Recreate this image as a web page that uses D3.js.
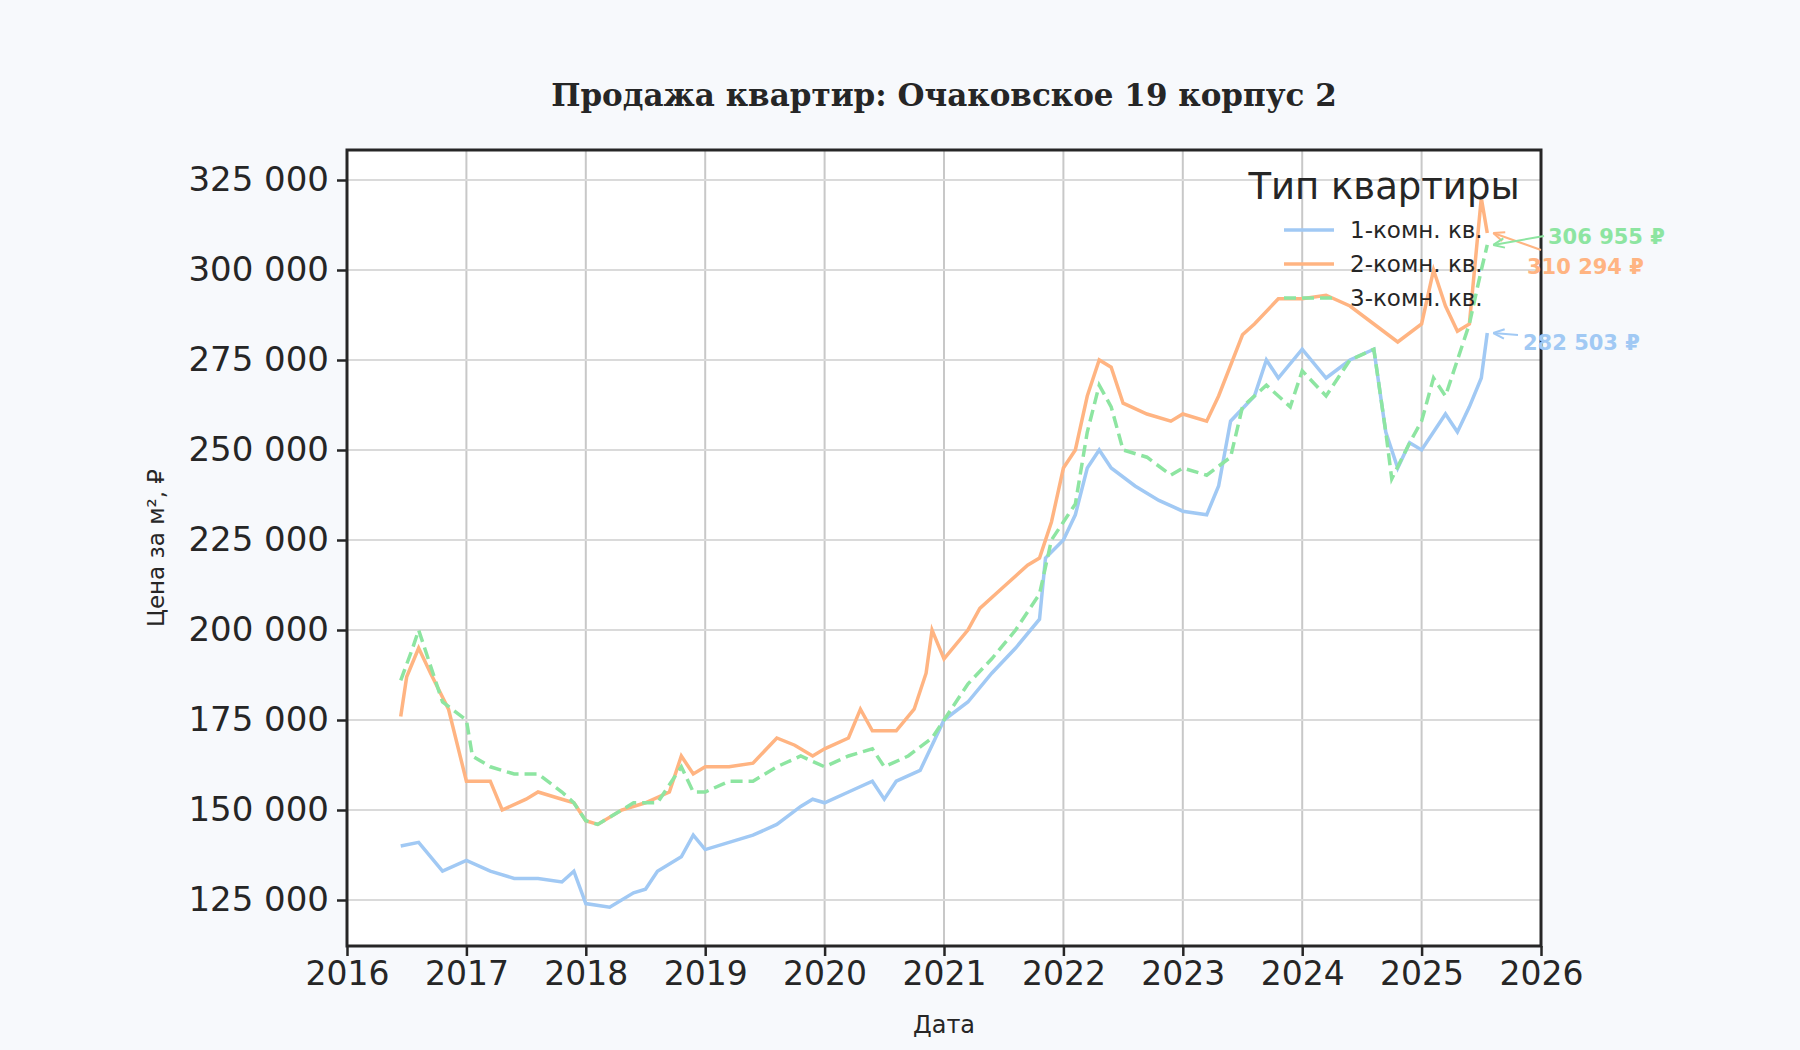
<!DOCTYPE html><html><head><meta charset="utf-8"><script src="https://cdn.jsdelivr.net/npm/d3@7"></script>
<style>body{margin:0;background:#f7f9fc}</style></head><body><svg id="c" width="1800" height="1050"></svg><script>
const years=[2016,2017,2018,2019,2020,2021,2022,2023,2024,2025,2026];
const yTicks=[125000,150000,175000,200000,225000,250000,275000,300000,325000];
const seriesNames=["1-комн. кв.","2-комн. кв.","3-комн. кв."];
const oneT=[2016.45,2016.6,2016.8,2017.0,2017.2,2017.4,2017.6,2017.8,2017.9,2018.0,2018.2,2018.4,2018.5,2018.6,2018.8,2018.9,2019.0,2019.2,2019.4,2019.6,2019.8,2019.9,2020.0,2020.2,2020.4,2020.5,2020.6,2020.8,2020.9,2021.0,2021.2,2021.4,2021.6,2021.8,2021.85,2022.0,2022.1,2022.2,2022.3,2022.4,2022.6,2022.8,2023.0,2023.2,2023.3,2023.4,2023.6,2023.7,2023.8,2024.0,2024.2,2024.4,2024.6,2024.7,2024.8,2024.9,2025.0,2025.2,2025.3,2025.4,2025.5,2025.55];
const oneV=[140,141,133,136,133,131,131,130,133,124,123,127,128,133,137,143,139,141,143,146,151,153,152,155,158,153,158,161,168,175,180,188,195,203,220,225,232,245,250,245,240,236,233,232,240,258,265,275,270,278,270,275,278,255,245,252,250,260,255,262,270,282.503];
const twoT=[2016.45,2016.5,2016.6,2016.7,2016.85,2017.0,2017.2,2017.3,2017.5,2017.6,2017.8,2017.9,2018.0,2018.1,2018.3,2018.5,2018.7,2018.8,2018.9,2019.0,2019.2,2019.4,2019.6,2019.75,2019.9,2020.0,2020.2,2020.3,2020.4,2020.6,2020.75,2020.85,2020.9,2021.0,2021.2,2021.3,2021.5,2021.7,2021.8,2021.9,2022.0,2022.1,2022.2,2022.3,2022.4,2022.5,2022.7,2022.9,2023.0,2023.2,2023.3,2023.5,2023.6,2023.8,2024.0,2024.2,2024.4,2024.6,2024.8,2025.0,2025.1,2025.2,2025.3,2025.4,2025.5,2025.55];
const twoV=[176,187,195,188,178,158,158,150,153,155,153,152,147,146,150,152,155,165,160,162,162,163,170,168,165,167,170,178,172,172,178,188,200,192,200,206,212,218,220,230,245,250,265,275,273,263,260,258,260,258,265,282,285,292,292,293,290,285,280,285,300,290,283,285,320,310.294];
const threeT=[2016.45,2016.55,2016.6,2016.7,2016.8,2017.0,2017.05,2017.2,2017.4,2017.6,2017.8,2017.9,2018.0,2018.1,2018.2,2018.4,2018.6,2018.8,2018.9,2019.0,2019.2,2019.4,2019.6,2019.8,2020.0,2020.2,2020.4,2020.5,2020.7,2020.9,2021.0,2021.2,2021.4,2021.6,2021.8,2021.9,2022.0,2022.1,2022.2,2022.3,2022.4,2022.5,2022.7,2022.9,2023.0,2023.2,2023.4,2023.5,2023.7,2023.9,2024.0,2024.2,2024.4,2024.6,2024.7,2024.75,2024.9,2025.0,2025.1,2025.2,2025.3,2025.4,2025.5,2025.55];
const threeV=[186,195,200,190,180,175,165,162,160,160,155,152,147,146,148,152,152,162,155,155,158,158,162,165,162,165,167,162,165,170,175,185,192,200,210,225,230,235,255,268,262,250,248,243,245,243,248,262,268,262,272,265,275,278,255,242,252,258,270,265,275,285,300,306.955];
const endLabels=["282 503 ₽","310 294 ₽","306 955 ₽"];
const colors=["#a1c9f4","#ffb482","#8de5a1"];
const svg=d3.select("#c");
const L=347,R=1541,T=150,B=946;
const x=d3.scaleLinear().domain([2016,2026]).range([L,R]);
const y=d3.scaleLinear().domain([125000,325000]).range([900,180]);
svg.append("rect").attr("x",L).attr("y",T).attr("width",R-L).attr("height",B-T).attr("fill","#fff");
const g=svg.append("g");
years.forEach(v=>g.append("line").attr("x1",x(v)).attr("x2",x(v)).attr("y1",T).attr("y2",B).attr("stroke","#c8c8c8").attr("stroke-width",2));
yTicks.forEach(v=>g.append("line").attr("x1",L).attr("x2",R).attr("y1",y(v)).attr("y2",y(v)).attr("stroke","#dadada").attr("stroke-width",2));
const data=[[oneT,oneV],[twoT,twoV],[threeT,threeV]];
const line=d3.line().x(d=>x(d[0])).y(d=>y(d[1]*1000));
svg.append("clipPath").attr("id","cp").append("rect").attr("x",L).attr("y",T).attr("width",R-L).attr("height",B-T);
data.forEach((s,i)=>{const pts=s[0].map((t,j)=>[t,s[1][j]]);
 svg.append("path").attr("d",line(pts)).attr("fill","none").attr("stroke",colors[i]).attr("stroke-width",3.5).attr("clip-path","url(#cp)").attr("stroke-dasharray",i==2?"12,6":null);});
const fmt=v=>d3.format(",")(v).replace(/,/g," ");
svg.append("g").attr("transform",`translate(${L},0)`).call(d3.axisLeft(y).tickValues(yTicks).tickFormat(fmt).tickSize(10).tickPadding(8)).call(a=>{a.select(".domain").remove();a.selectAll("line").attr("stroke","#262626").attr("stroke-width",2.5);a.selectAll("text").attr("font-size",34).attr("font-family","DejaVu Sans").attr("fill","#262626");});
svg.append("g").attr("transform",`translate(0,${B})`).call(d3.axisBottom(x).tickValues(years).tickFormat(d3.format("d")).tickSize(10).tickPadding(6)).call(a=>{a.select(".domain").remove();a.selectAll("line").attr("stroke","#262626").attr("stroke-width",2.5);a.selectAll("text").attr("font-size",33).attr("font-family","DejaVu Sans").attr("fill","#262626");});
svg.append("rect").attr("x",L).attr("y",T).attr("width",R-L).attr("height",B-T).attr("fill","none").attr("stroke","#262626").attr("stroke-width",3);
svg.append("text").attr("x",(L+R)/2).attr("y",106).attr("text-anchor","middle").attr("font-family","DejaVu Serif").attr("font-weight","bold").attr("font-size",31).attr("fill","#262626").text("Продажа квартир: Очаковское 19 корпус 2");
svg.append("text").attr("x",(L+R)/2).attr("y",1033).attr("text-anchor","middle").attr("font-family","DejaVu Sans").attr("font-size",24).attr("fill","#262626").text("Дата");
svg.append("text").attr("transform",`translate(164,${(T+B)/2}) rotate(-90)`).attr("text-anchor","middle").attr("font-family","DejaVu Sans").attr("font-size",23).attr("fill","#262626").text("Цена за м², ₽");
svg.append("text").attr("x",1384).attr("y",199).attr("text-anchor","middle").attr("font-family","DejaVu Sans").attr("font-size",37).attr("fill","#262626").text("Тип квартиры");
seriesNames.forEach((n,i)=>{const yy=230+i*34;
 svg.append("line").attr("x1",1284).attr("x2",1334).attr("y1",yy).attr("y2",yy).attr("stroke",colors[i]).attr("stroke-width",3.5).attr("stroke-dasharray",i==2?"12,6":null);
 svg.append("text").attr("x",1350).attr("y",yy+8).attr("font-family","DejaVu Sans").attr("font-size",23).attr("fill","#262626").text(n);});
const labPos=[[1523,350],[1527,274],[1548,244]];
data.forEach((s,i)=>{const lt=s[0][s[0].length-1],lv=s[1][s[1].length-1]*1000;
 const px=x(lt),py=y(lv);const [tx,ty]=labPos[i];
 const ex=i==0?tx-5:(i==1?tx+14:tx-4), ey=i==0?ty-15:(i==1?ty-24:ty-8);
 svg.append("line").attr("x1",ex).attr("y1",ey).attr("x2",px+6).attr("y2",py).attr("stroke",colors[i]).attr("stroke-width",2);
 const ang=Math.atan2(ey-py,ex-px-6);
 svg.append("path").attr("d",`M${px+6},${py} l${12*Math.cos(ang-0.4)},${12*Math.sin(ang-0.4)} M${px+6},${py} l${12*Math.cos(ang+0.4)},${12*Math.sin(ang+0.4)}`).attr("stroke",colors[i]).attr("stroke-width",2).attr("fill","none");
 svg.append("text").attr("x",tx).attr("y",ty).attr("font-family","DejaVu Sans").attr("font-weight","bold").attr("font-size",21).attr("fill",colors[i]).text(endLabels[i]);});
</script></body></html>
